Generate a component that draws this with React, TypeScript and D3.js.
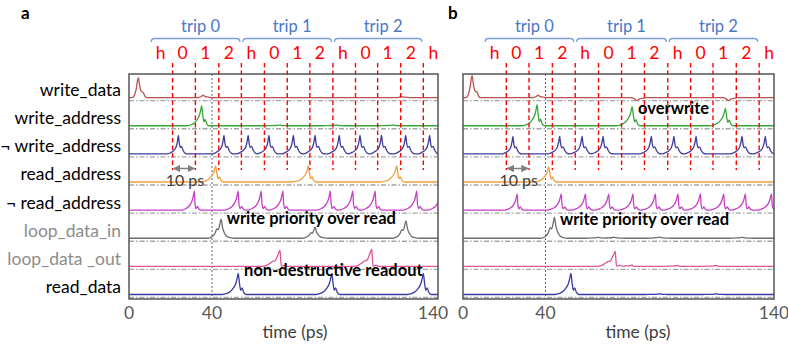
import React from 'react';
import * as d3 from 'd3';

// rows of the timing diagram (top to bottom)
const rowNames = ['write_data', 'write_address', '¬ write_address', 'read_address', '¬ read_address', 'loop_data_in', 'loop_data _out', 'read_data'];
const rowLabelColors = ['#000', '#000', '#000', '#000', '#000', '#8c8c8c', '#8c8c8c', '#000'];
const traceColors = ['#b85450', '#3aa53a', '#3d3d9e', '#f0a040', '#c73fc7', '#6e6e6e', '#e0559a', '#3a3aa0'];
const traceShapes = ['spike', 'bump', 'clock', 'bump', 'clock2', 'double', 'saw', 'bump'];

// pulse shapes: [ps from peak, fraction of peak]
const shapes: Record<string, number[][]> = {
  spike: [[-3, 0], [-2, 0.1], [-1, 0.45], [-0.4, 0.85], [0, 1], [0.5, 0.7], [1, 0.4], [1.6, 0.3], [2.4, 0.25], [3.2, 0.06], [4, 0]],
  bump: [[-7, 0], [-5, 0.05], [-3.5, 0.14], [-2.2, 0.3], [-1, 0.55], [-0.4, 0.8], [0, 1], [0.6, 0.5], [1.1, 0.2], [1.7, 0.32], [2.4, 0.1], [3.5, 0]],
  clock: [[-5, 0], [-3.5, 0.08], [-2, 0.2], [-1, 0.4], [-0.4, 0.7], [0, 1], [0.4, 0.6], [0.9, 0.35], [1.5, 0.4], [2.3, 0.18], [3.3, 0.03], [4.5, 0]],
  clock2: [[-6, 0], [-4.5, 0.06], [-3, 0.16], [-1.8, 0.33], [-0.8, 0.6], [-0.2, 0.92], [0, 1], [0.3, 0.35], [0.8, 0.08], [1.5, 0.2], [2.2, 0.06], [3.2, 0]],
  double: [[-6, 0], [-4, 0.08], [-2.6, 0.28], [-1.8, 0.5], [-1.2, 0.45], [-0.5, 0.75], [0, 1], [0.7, 0.55], [1.4, 0.3], [2.4, 0.12], [4, 0.03], [6, 0]],
  saw: [[-8, 0], [-6, 0.06], [-4.2, 0.22], [-3.2, 0.32], [-2.2, 0.35], [-1.2, 0.62], [0, 1], [0.25, 0.55], [0.6, 0.02], [2, 0.06], [3, 0]],
};

// clock phase markers (ps) and trips
const markerLabels = ['h', '0', '1', '2', 'h', '0', '1', '2', 'h', '0', '1', '2', 'h'];
const markerTimes = [10, 21, 32, 43, 53, 63.2, 73.3, 83.3, 93.5, 103.5, 113.3, 123.5, 133.5];
const tripLabels = ['trip 0', 'trip 1', 'trip 2'];
const tickValues = [0, 40, 140];

// panel a: pulses per row, [peak time ps, height]
const pulsesA = [
  [[4.5, 1.0], [35.8, 0.12], [124, 0.05]],
  [[35, 1.0], [70, 0.04], [95, 0.04], [120, 0.04]],
  [[23.8, 0.93], [45.3, 0.93], [56, 0.93], [65.2, 0.93], [76, 0.93], [85.6, 0.93], [96.3, 0.93], [105.5, 0.93], [115, 0.93], [125.7, 0.93], [136.3, 0.93]],
  [[41.6, 0.8], [82.6, 0.8], [121.7, 0.8]],
  [[31.5, 0.95], [51.6, 0.95], [61.8, 0.95], [71.4, 0.95], [92.4, 0.95], [102.3, 0.95], [112.2, 0.95], [130.6, 0.95], [141.5, 0.95]],
  [[44, 0.95], [85.6, 0.55], [125.8, 0.87]],
  [[70.1, 0.8], [110.7, 0.85]],
  [[51.6, 1.05], [93, 1.05], [133.5, 1.05]],
];

// panel b
const pulsesB = [
  [[4.4, 1.1], [36.5, 0.12], [80.1, -0.15], [120.2, -0.15]],
  [[35.9, 1.05], [77.9, 0.95], [118.7, 0.87]],
  [[24.2, 0.87], [46.2, 0.87], [56, 0.87], [65.2, 0.87], [86.3, 0.87], [96.2, 0.87], [105.9, 0.87], [126, 0.87], [136.2, 0.87]],
  [[41.4, 0.75]],
  [[26.3, 0.8], [46.9, 0.8], [57.5, 0.8], [67.7, 0.8], [78.3, 0.8], [88.1, 0.8], [98, 0.8], [107.8, 0.8], [118, 0.8], [127.5, 0.8], [138.9, 0.8]],
  [[43.9, 1.05], [63, 0.05], [70, 0.05], [90, 0.06], [126, 0.05]],
  [[70.5, 0.75], [78, 0.06], [98, 0.05], [115, 0.05]],
  [[51.1, 1.05], [90, 0.03], [115, 0.03]],
];

const FONT = "Lato, 'Open Sans', sans-serif";
const W = 788, H = 346;
const TOP = 74, BOTTOM = 299;

const panels = [
  { key: 'a', left: 129, mid: 212, right: 438, pulses: pulsesA, showNames: true, titleX: 295, lastTickDx: -5,
    notes: [{ text: 'write priority over read', t: 46.5, y: 224 }, { text: 'non-destructive readout', t: 54.2, y: 275.5 }] },
  { key: 'b', left: 463, mid: 545.5, right: 774, pulses: pulsesB, showNames: false, titleX: 638, lastTickDx: 0,
    notes: [{ text: 'overwrite', t: 80.5, y: 113.5 }, { text: 'write priority over read', t: 46.3, y: 224.5 }] },
];

function shapeAt(shape: number[][], dt: number) {
  if (dt <= shape[0][0] || dt >= shape[shape.length - 1][0]) return 0;
  for (let i = 1; i < shape.length; i++) {
    if (dt <= shape[i][0]) {
      const [t0, v0] = shape[i - 1];
      const [t1, v1] = shape[i];
      return v0 + (v1 - v0) * (dt - t0) / (t1 - t0);
    }
  }
  return 0;
}

function traceData(pulses: number[][], shape: number[][]) {
  const ts = new Set<number>([0, 140]);
  pulses.forEach(([t0]) => shape.forEach(([dt]) => ts.add(t0 + dt)));
  const times = Array.from(ts).filter(t => t >= 0 && t <= 140).sort((a, b) => a - b);
  return times.map(t => [t, d3.sum(pulses, ([t0, a]) => a * shapeAt(shape, t - t0))]);
}

const rowScale = d3.scaleBand<string>().domain(rowNames).range([TOP, BOTTOM]);
const bw = rowScale.bandwidth();

function Panel({ p }: { p: typeof panels[number] }) {
  const x = d3.scaleLinear().domain([0, 40, 140]).range([p.left, p.mid, p.right]);
  const line = d3.line<number[]>().x(d => x(d[0])).curve(d3.curveMonotoneX);
  const clipId = `clip-${p.key}`;
  return (
    <g>
      <defs>
        <clipPath id={clipId}>
          <rect x={p.left} y={TOP} width={p.right - p.left} height={BOTTOM - TOP} />
        </clipPath>
      </defs>
      <text x={p.key === 'a' ? 21 : 448} y={19} fontSize={17} fontWeight="bold" fill="#000">{p.key}</text>

      {/* trip braces */}
      {tripLabels.map((lab, i) => {
        const x0 = x(markerTimes[i * 4]) + 1.5, x1 = x(markerTimes[i * 4 + 4]) - 1.5;
        const y = 38.5;
        return (
          <g key={lab}>
            <path d={`M${x0},${y + 3.5} Q${x0},${y} ${x0 + 3.5},${y} L${x1 - 3.5},${y} Q${x1},${y} ${x1},${y + 3.5}`}
              fill="none" stroke="#7a9fdc" strokeWidth={1.3} />
            <text x={(x0 + x1) / 2 + 5} y={32} textAnchor="middle" fontSize={16.5} fill="#4a78c8">{lab}</text>
          </g>
        );
      })}

      {/* phase labels */}
      {markerLabels.map((lab, i) => (
        <text key={i} x={x(markerTimes[i]) + (i === 0 ? 11 : 10)} y={59} textAnchor="middle" fontSize={17.5} fill="#ff0000">{lab}</text>
      ))}

      {/* row separators */}
      {rowNames.map(name => (
        <line key={name} x1={p.left} x2={p.right} y1={(rowScale(name) as number) + bw - 1.5} y2={(rowScale(name) as number) + bw - 1.5}
          stroke="#a6a6a6" strokeWidth={1.3} strokeDasharray="5 2 1.5 2" />
      ))}

      {/* 40 ps guide */}
      <line x1={x(40)} x2={x(40)} y1={TOP} y2={BOTTOM} stroke="#666" strokeWidth={1} strokeDasharray="2 2" />

      {/* traces */}
      <g clipPath={`url(#${clipId})`}>
        {rowNames.map((name, i) => {
          const base = (rowScale(name) as number) + bw - 4.5;
          const y = d3.scaleLinear().domain([0, 1]).range([base, base - 20]);
          const data = traceData(p.pulses[i], shapes[traceShapes[i]]);
          return <path key={name} d={line.y(d => y(d[1]))(data) || ''} fill="none" stroke={traceColors[i]} strokeWidth={1.3} />;
        })}
      </g>

      {/* red phase lines */}
      {markerTimes.slice(1).map((t, i) => (
        <line key={i} x1={x(t)} x2={x(t)} y1={63} y2={170} stroke="#ff0000" strokeWidth={1.4} strokeDasharray="4.5 3" />
      ))}

      {/* 10 ps arrow */}
      <defs>
        <marker id={`arr-${p.key}`} viewBox="0 0 10 10" refX="9" refY="5" markerWidth="5" markerHeight="5" orient="auto-start-reverse">
          <path d="M0,0 L10,5 L0,10 z" fill="#7f7f7f" />
        </marker>
      </defs>
      <line x1={x(markerTimes[1]) + 1} x2={x(markerTimes[2]) - 1} y1={168.5} y2={168.5} stroke="#7f7f7f" strokeWidth={1.5}
        markerStart={`url(#arr-${p.key})`} markerEnd={`url(#arr-${p.key})`} />
      <text x={(x(markerTimes[1]) + x(markerTimes[2])) / 2 + 1} y={186} textAnchor="middle" fontSize={16} fill="#404040">10 ps</text>

      {/* plot frame */}
      <rect x={p.left} y={TOP} width={p.right - p.left} height={BOTTOM - TOP} fill="none" stroke="#555" strokeWidth={1.5} />

      {/* annotations */}
      {p.notes.map(n => (
        <text key={n.text} x={x(n.t)} y={n.y} fontSize={16.5} fontWeight="bold" fill="#000">{n.text}</text>
      ))}

      {/* row names */}
      {p.showNames && rowNames.map((name, i) => (
        <text key={name} x={121} y={(rowScale(name) as number) + bw / 2 + 8} textAnchor="end" fontSize={17.5} fill={rowLabelColors[i]}>{name}</text>
      ))}

      {/* x axis */}
      {tickValues.map(v => (
        <text key={v} x={x(v) + (v === 140 ? p.lastTickDx : 0)} y={319} textAnchor="middle" fontSize={17.5} fill="#595959">{v}</text>
      ))}
      <text x={p.titleX} y={338} textAnchor="middle" fontSize={17.5} fill="#404040">time (ps)</text>
    </g>
  );
}

export default function App() {
  return (
    <svg width={W} height={H} style={{ position: 'absolute', left: 0, top: 0, background: '#fff', fontFamily: FONT }}>
      <rect width={W} height={H} fill="#fff" />
      {panels.map(p => <Panel key={p.key} p={p} />)}
    </svg>
  );
}
